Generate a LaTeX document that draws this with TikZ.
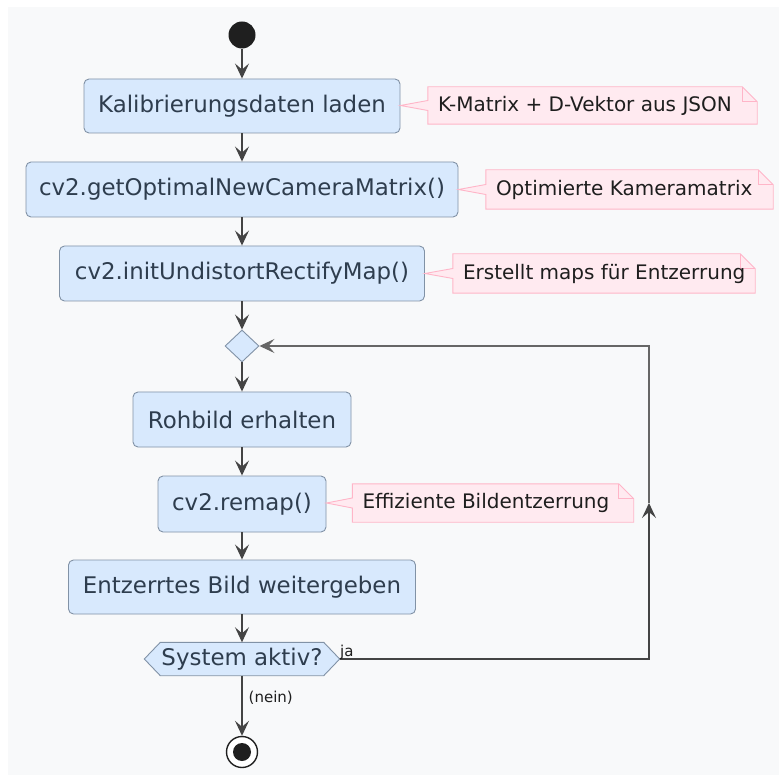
\documentclass[tikz,border=0pt]{standalone}
\usepackage{fontspec}
\setmainfont{DejaVu Sans}
\usetikzlibrary{arrows.meta,shapes.geometric}

\definecolor{canvas}{HTML}{F8F9FA}
\definecolor{actfill}{HTML}{D8E9FD}
\definecolor{actline}{HTML}{8192A6}
\definecolor{acttext}{HTML}{2E3D4E}
\definecolor{notefill}{HTML}{FFEAF0}
\definecolor{noteline}{HTML}{FFB5C8}
\definecolor{notetext}{HTML}{1E1E1E}
\definecolor{flowline}{HTML}{444444}
\definecolor{backline}{HTML}{666666}

\tikzset{
  actbox/.style={draw=actline, fill=actfill, line width=0.9pt, rounded corners=5pt,
    text=acttext, inner sep=0pt, font=\fontsize{22.9}{27}\selectfont},
  notebox/.style={inner sep=0pt, text=notetext, font=\fontsize{20}{24}\selectfont},
  noteedge/.style={draw=noteline, fill=notefill, line width=0.9pt, line join=miter},
  tip/.style={-{Stealth[length=15pt,width=14pt,inset=6pt]}},
  flow/.style={draw=flowline, line width=1.4pt, tip},
  backflow/.style={draw=backline, line width=1.2pt},
  edgelabel/.style={inner sep=0pt, text=notetext, font=\fontsize{15}{18}\selectfont},
  startdot/.style={circle, fill=black!88, minimum size=27pt, inner sep=0pt},
  stopring/.style={circle, draw=black!88, fill=white, line width=1.4pt, minimum size=31pt, inner sep=0pt},
  stopdot/.style={circle, fill=black!88, minimum size=18pt, inner sep=0pt},
  merge/.style={diamond, draw=actline, fill=actfill, line width=0.9pt, inner sep=0pt,
    minimum width=34pt, minimum height=32pt},
}

% note outline with folded corner and a pointer to the action it explains
\newcommand\notecallout[3]{%
  \path[noteedge] (#1.north west) -- ([xshift=-15pt]#1.north east)
    -- ([yshift=-15pt]#1.north east) -- (#1.south east) -- (#1.south west)
    -- ([yshift=-5pt]#1.west) -- (#2.east |- #1.west) -- ([yshift=5pt]#1.west) -- cycle;
  \draw[noteline, line width=0.9pt] ([xshift=-15pt]#1.north east)
    -- ([xshift=-15pt,yshift=-15pt]#1.north east) -- ([yshift=-15pt]#1.north east);
  \node[notebox, anchor=west] (#1text) at ([xshift=10pt]#1.west) {#3};
}

\begin{document}
\begin{tikzpicture}[x=1pt, y=-1pt]
  \useasboundingbox (0,0) rectangle (779,775);
  \fill[white] (0,0) rectangle (779,775);
  \fill[canvas] (8,7) rectangle (779,775);

  % actions
  \node[startdot] (start) at (242,35) {};
  \node[actbox, minimum width=316pt, minimum height=54pt] (load) at (242,106) {Kalibrierungsdaten laden};
  \node[actbox, minimum width=432pt, minimum height=55pt] (optim) at (242,189.5) {cv2.getOptimalNewCameraMatrix()};
  \node[actbox, minimum width=365pt, minimum height=55pt] (initmap) at (242,273.5) {cv2.initUndistortRectifyMap()};
  \node[merge] (join) at (242,346) {};
  \node[actbox, minimum width=218pt, minimum height=55pt] (raw) at (242,419.5) {Rohbild erhalten};
  \node[actbox, minimum width=168pt, minimum height=56pt] (remap) at (242,504) {cv2.remap()};
  \node[actbox, minimum width=347pt, minimum height=54pt] (pass) at (242,587) {Entzerrtes Bild weitergeben};

  % loop condition (hexagon)
  \node[inner sep=0pt, minimum width=195pt, minimum height=33pt] (check) at (242,659) {};
  \path[draw=actline, fill=actfill, line width=0.9pt]
    (check.west) -- ([xshift=16pt]check.north west) -- ([xshift=-16pt]check.north east)
    -- (check.east) -- ([xshift=-16pt]check.south east) -- ([xshift=16pt]check.south west) -- cycle;
  \node[inner sep=0pt, text=acttext, font=\fontsize{22.9}{27}\selectfont] (checktext) at (check) {System aktiv?};

  \node[stopring] (stop) at (242,752) {};
  \node[stopdot] (stopcore) at (stop) {};

  % notes
  \node[minimum width=329pt, minimum height=37pt, inner sep=0pt] (n1) at (592.5,105.5) {};
  \node[minimum width=287pt, minimum height=39pt, inner sep=0pt] (n2) at (629.5,189.5) {};
  \node[minimum width=302pt, minimum height=39pt, inner sep=0pt] (n3) at (604,273.5) {};
  \node[minimum width=281pt, minimum height=38pt, inner sep=0pt] (n5) at (493,503) {};
  \notecallout{n1}{load}{K-Matrix + D-Vektor aus JSON}
  \notecallout{n2}{optim}{Optimierte Kameramatrix}
  \notecallout{n3}{initmap}{Erstellt maps für Entzerrung}
  \notecallout{n5}{remap}{Effiziente Bildentzerrung}

  % main flow
  \draw[flow] (start) -- (load);
  \draw[flow] (load) -- (optim);
  \draw[flow] (optim) -- (initmap);
  \draw[flow] (initmap) -- (join);
  \draw[flow] (join) -- (raw);
  \draw[flow] (raw) -- (remap);
  \draw[flow] (remap) -- (pass);
  \draw[flow] (pass) -- (check);
  \draw[flow] (check) -- node[edgelabel, anchor=west, xshift=6pt, pos=0.36] {(nein)} (stop);

  % back edge to the merge point
  \coordinate (loopbottom) at (649,659);
  \coordinate (loopmid) at (649,503);
  \coordinate (looptop) at (649,346);
  \draw[backflow, tip, draw=flowline] (check.east) -- (loopbottom) -- (loopmid);
  \draw[backflow, tip] (loopmid) -- (looptop) -- (join.east);
  \node[edgelabel, anchor=south west] (yes) at (340,660) {ja};
\end{tikzpicture}
\end{document}
